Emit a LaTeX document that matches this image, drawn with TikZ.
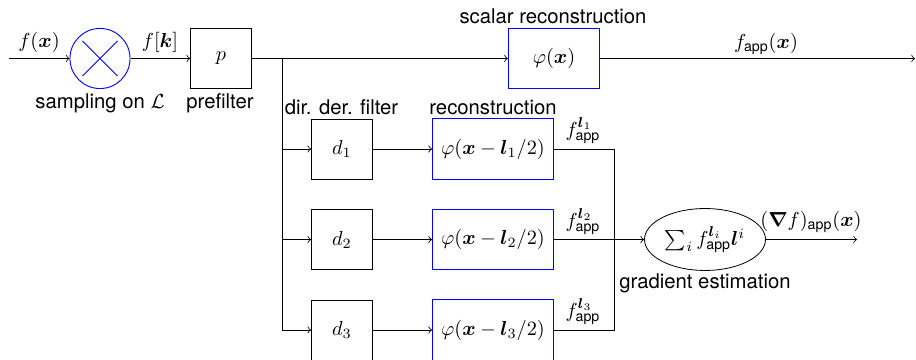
\documentclass[tikz,border=0pt]{standalone}
\usepackage{amsmath,amssymb,bm}
\usepackage{fontspec}
\setsansfont{TeX Gyre Heros}
\usetikzlibrary{shapes.geometric}
\definecolor{recblue}{RGB}{0,0,255}
\begin{document}
\begin{tikzpicture}[x=0.4926pt,y=-0.4926pt,
  blk/.style={draw, minimum width=30pt, minimum height=29.6pt, inner sep=0pt},
  rec/.style={draw=recblue, line width=0.45pt, minimum height=29.6pt, inner sep=0pt},
  lbl/.style={font=\sffamily, inner sep=0pt}]
\useasboundingbox (0,0) rectangle (916,360);

% nodes
\node[circle, draw=recblue, line width=0.45pt, minimum size=29.6pt, inner sep=0pt] (smp) at (100,58.5) {};
\draw[recblue, line width=0.45pt] ([shift={(-17.5,-17.5)}]smp.center) -- ([shift={(17.5,17.5)}]smp.center);
\draw[recblue, line width=0.45pt] ([shift={(-17.5,17.5)}]smp.center) -- ([shift={(17.5,-17.5)}]smp.center);
\node[blk] (p) at (221,58.5) {$p$};
\node[rec, minimum width=45pt] (phi) at (554,58.5) {$\varphi(\boldsymbol{x})$};

\node[blk] (d1) at (342,149) {$d_1$};
\node[blk] (d2) at (342,239.5) {$d_2$};
\node[blk] (d3) at (342,330) {$d_3$};
\node[rec, minimum width=59.6pt] (r1) at (493,149) {$\varphi(\boldsymbol{x}-\boldsymbol{l}_1/2)$};
\node[rec, minimum width=59.6pt] (r2) at (493,239.5) {$\varphi(\boldsymbol{x}-\boldsymbol{l}_2/2)$};
\node[rec, minimum width=59.6pt] (r3) at (493,330) {$\varphi(\boldsymbol{x}-\boldsymbol{l}_3/2)$};

\node[ellipse, draw, minimum width=59.6pt, minimum height=30.5pt, inner sep=0pt] (g) at (705,239.5)
  {\makebox[40pt][c]{$\sum_i f_{\textsf{app}}^{\boldsymbol{l}_i}\boldsymbol{l}^i$}};

% labels
\node[inner sep=0pt] (lfx) at (39,42) {$f(\boldsymbol{x})$};
\node[inner sep=0pt] (lfk) at (160,42) {$f[\boldsymbol{k}]$};
\node[lbl] (lsmp) at (100,103) {sampling on $\mathcal{L}$};
\node[lbl] (lpre) at (220,103) {prefilter};
\node[lbl] (lsc) at (553,16) {scalar reconstruction};
\node[lbl] (ldir) at (341.5,107) {dir. der. filter};
\node[lbl] (lrec) at (493,107) {reconstruction};
\node[inner sep=0pt] (lfapp) at (766,44) {$f_{\textsf{app}}(\boldsymbol{x})$};
\node[inner sep=0pt] (ll1) at (583,131) {$f_{\textsf{app}}^{\boldsymbol{l}_1}$};
\node[inner sep=0pt] (ll2) at (583,221.5) {$f_{\textsf{app}}^{\boldsymbol{l}_2}$};
\node[inner sep=0pt] (ll3) at (583,312) {$f_{\textsf{app}}^{\boldsymbol{l}_3}$};
\node[inner sep=0pt] (lgrad) at (811,222) {$(\boldsymbol{\nabla} f)_{\textsf{app}}(\boldsymbol{x})$};
\node[lbl] (lge) at (705,283) {gradient estimation};

% connectors
\coordinate (in) at (9,58.5);
\coordinate (sp) at (282,58.5);
\coordinate (sp3) at (282,330);
\coordinate (out) at (915,58.5);
\coordinate (j1) at (614,149);
\coordinate (j3) at (614,330);
\coordinate (gout) at (857,239.5);

\draw[->] (in) -- (smp);
\draw[->] (smp) -- (p);
\draw (p) -- (sp);
\draw[->] (sp) -- (phi);
\draw[->] (phi) -- (out);
\draw (sp) -- (sp3);
\draw[->] (sp |- d1) -- (d1);
\draw[->] (sp |- d2) -- (d2);
\draw[->] (sp3) -- (d3);
\draw[->] (d1) -- (r1);
\draw[->] (d2) -- (r2);
\draw[->] (d3) -- (r3);
\draw (r1) -- (j1) -- (j3) -- (r3);
\draw[->] (r2) -- (g);
\draw[->] (g) -- (gout);
\end{tikzpicture}
\end{document}
